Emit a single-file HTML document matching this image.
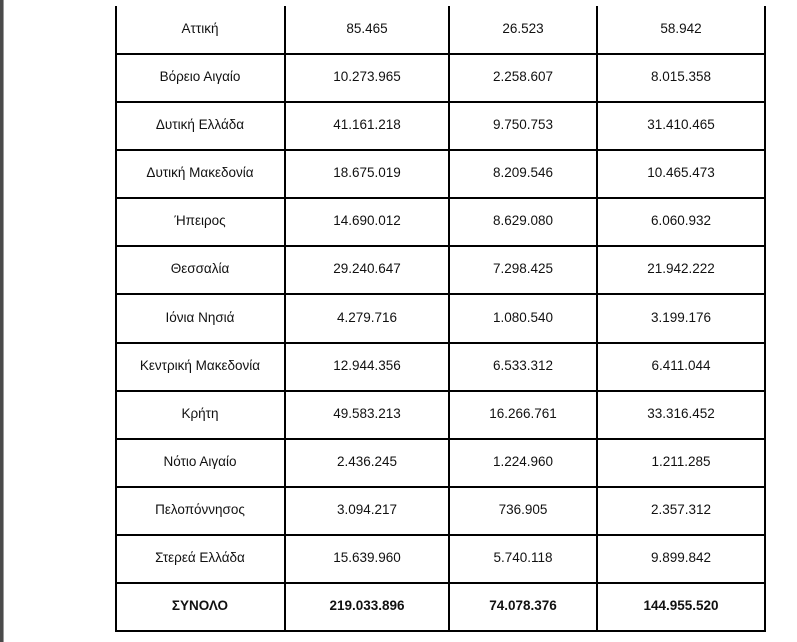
<!DOCTYPE html>
<html><head><meta charset="utf-8"><style>
html,body{margin:0;padding:0;background:#fff;}
body{width:797px;height:642px;position:relative;overflow:hidden;font-family:"Liberation Sans","DejaVu Sans",sans-serif;color:#111;}
.strip{position:absolute;left:0;top:0;width:3px;height:642px;background:#4a4a4a;}
.strip2{position:absolute;left:3px;top:0;width:1px;height:642px;background:#9a9a9a;}
.v{position:absolute;top:6px;width:2px;height:626px;background:#000;}
.h{position:absolute;left:115px;width:651px;height:2px;background:#000;}
.t{position:absolute;width:200px;margin-left:-100px;text-align:center;font-size:13.5px;line-height:16px;height:16px;white-space:nowrap;}
.b{font-weight:bold;}
</style></head><body>
<div class="strip"></div><div class="strip2"></div>
<div class="v" style="left:115px"></div>
<div class="v" style="left:284px"></div>
<div class="v" style="left:448px"></div>
<div class="v" style="left:596px"></div>
<div class="v" style="left:764px"></div>
<div class="h" style="top:53px"></div>
<div class="h" style="top:101px"></div>
<div class="h" style="top:149px"></div>
<div class="h" style="top:197px"></div>
<div class="h" style="top:245px"></div>
<div class="h" style="top:293px"></div>
<div class="h" style="top:342px"></div>
<div class="h" style="top:390px"></div>
<div class="h" style="top:438px"></div>
<div class="h" style="top:486px"></div>
<div class="h" style="top:534px"></div>
<div class="h" style="top:582px"></div>
<div class="h" style="top:630px"></div>

<div class="t" style="left:200px;top:21px">Αττική</div>
<div class="t" style="left:367px;top:21px">85.465</div>
<div class="t" style="left:523px;top:21px">26.523</div>
<div class="t" style="left:681px;top:21px">58.942</div>

<div class="t" style="left:200px;top:69px">Βόρειο Αιγαίο</div>
<div class="t" style="left:367px;top:69px">10.273.965</div>
<div class="t" style="left:523px;top:69px">2.258.607</div>
<div class="t" style="left:681px;top:69px">8.015.358</div>

<div class="t" style="left:200px;top:117px">Δυτική Ελλάδα</div>
<div class="t" style="left:367px;top:117px">41.161.218</div>
<div class="t" style="left:523px;top:117px">9.750.753</div>
<div class="t" style="left:681px;top:117px">31.410.465</div>

<div class="t" style="left:200px;top:165px">Δυτική Μακεδονία</div>
<div class="t" style="left:367px;top:165px">18.675.019</div>
<div class="t" style="left:523px;top:165px">8.209.546</div>
<div class="t" style="left:681px;top:165px">10.465.473</div>

<div class="t" style="left:200px;top:213px">Ήπειρος</div>
<div class="t" style="left:367px;top:213px">14.690.012</div>
<div class="t" style="left:523px;top:213px">8.629.080</div>
<div class="t" style="left:681px;top:213px">6.060.932</div>

<div class="t" style="left:200px;top:261px">Θεσσαλία</div>
<div class="t" style="left:367px;top:261px">29.240.647</div>
<div class="t" style="left:523px;top:261px">7.298.425</div>
<div class="t" style="left:681px;top:261px">21.942.222</div>

<div class="t" style="left:200px;top:310px">Ιόνια Νησιά</div>
<div class="t" style="left:367px;top:310px">4.279.716</div>
<div class="t" style="left:523px;top:310px">1.080.540</div>
<div class="t" style="left:681px;top:310px">3.199.176</div>

<div class="t" style="left:200px;top:358px">Κεντρική Μακεδονία</div>
<div class="t" style="left:367px;top:358px">12.944.356</div>
<div class="t" style="left:523px;top:358px">6.533.312</div>
<div class="t" style="left:681px;top:358px">6.411.044</div>

<div class="t" style="left:200px;top:406px">Κρήτη</div>
<div class="t" style="left:367px;top:406px">49.583.213</div>
<div class="t" style="left:523px;top:406px">16.266.761</div>
<div class="t" style="left:681px;top:406px">33.316.452</div>

<div class="t" style="left:200px;top:454px">Νότιο Αιγαίο</div>
<div class="t" style="left:367px;top:454px">2.436.245</div>
<div class="t" style="left:523px;top:454px">1.224.960</div>
<div class="t" style="left:681px;top:454px">1.211.285</div>

<div class="t" style="left:200px;top:502px">Πελοπόννησος</div>
<div class="t" style="left:367px;top:502px">3.094.217</div>
<div class="t" style="left:523px;top:502px">736.905</div>
<div class="t" style="left:681px;top:502px">2.357.312</div>

<div class="t" style="left:200px;top:550px">Στερεά Ελλάδα</div>
<div class="t" style="left:367px;top:550px">15.639.960</div>
<div class="t" style="left:523px;top:550px">5.740.118</div>
<div class="t" style="left:681px;top:550px">9.899.842</div>

<div class="t b" style="left:200px;top:598px">ΣΥΝΟΛΟ</div>
<div class="t b" style="left:367px;top:598px">219.033.896</div>
<div class="t b" style="left:523px;top:598px">74.078.376</div>
<div class="t b" style="left:681px;top:598px">144.955.520</div>
</body></html>
